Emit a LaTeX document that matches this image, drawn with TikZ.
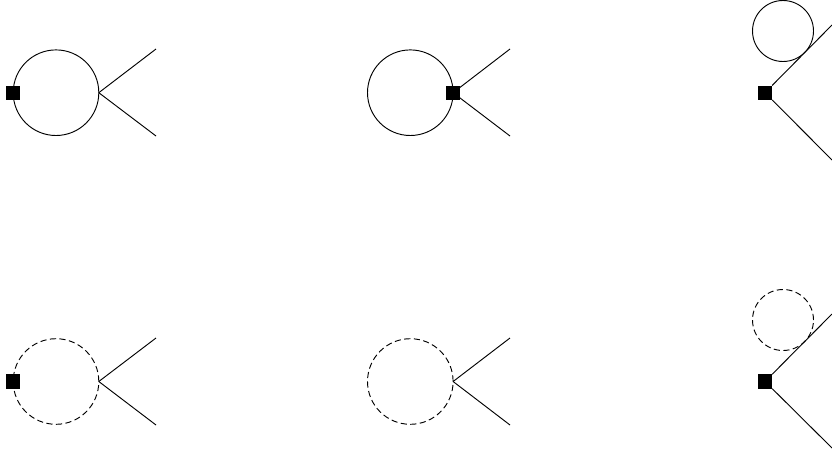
\documentclass[tikz,border=0pt]{standalone}
\usetikzlibrary{positioning,calc}

\begin{document}
\begin{tikzpicture}[
  x=0.75pt, y=-0.75pt, line width=0.7pt,
  lp/.style={draw, circle, inner sep=0pt, outer sep=0pt, minimum size=64.2pt},
  tad/.style={draw, circle, inner sep=0pt, outer sep=0pt, minimum size=45.75pt},
  ghost/.style={dash pattern=on 4.6pt off 2.6pt},
  vtx/.style={fill=black, rectangle, inner sep=0pt, outer sep=0pt, minimum size=10.8pt},
  leg/.style={line width=0.7pt},
]
\useasboundingbox (0,0) rectangle (832,458);

%% top row
\node[lp] (a) at (56,92.7) {};
\node[vtx] (av) at (a.west) {};
\coordinate (au) at (156,49);
\coordinate (ad) at (156,136);
\draw[leg] (a.east) -- (au);
\draw[leg] (a.east) -- (ad);

\node[lp] (b) at (410.3,92.7) {};
\coordinate (bu) at (510,49);
\coordinate (bd) at (510,136);
\draw[leg] (b.east) -- (bu);
\draw[leg] (b.east) -- (bd);
\node[vtx] (bv) at (b.east) {};

\node[tad] (c) at (783,31) {};
\node[vtx] (cv) at (765,92.7) {};
\coordinate (cu) at (832,25);
\coordinate (cd) at (832,160);
\draw[leg] (cv) -- (cu);
\draw[leg] (cv) -- (cd);

%% bottom row
\node[lp, ghost] (d) at (56,381.5) {};
\node[vtx] (dv) at (d.west) {};
\coordinate (du) at (156,338);
\coordinate (dd) at (156,425);
\draw[leg] (d.east) -- (du);
\draw[leg] (d.east) -- (dd);

\node[lp, ghost] (e) at (410.3,381.5) {};
\coordinate (eu) at (510,338);
\coordinate (ed) at (510,425);
\draw[leg] (e.east) -- (eu);
\draw[leg] (e.east) -- (ed);

\node[tad, ghost] (f) at (783,320) {};
\node[vtx] (fv) at (765,381.5) {};
\coordinate (fu) at (832,314);
\coordinate (fd) at (832,448);
\draw[leg] (fv) -- (fu);
\draw[leg] (fv) -- (fd);
\end{tikzpicture}
\end{document}
